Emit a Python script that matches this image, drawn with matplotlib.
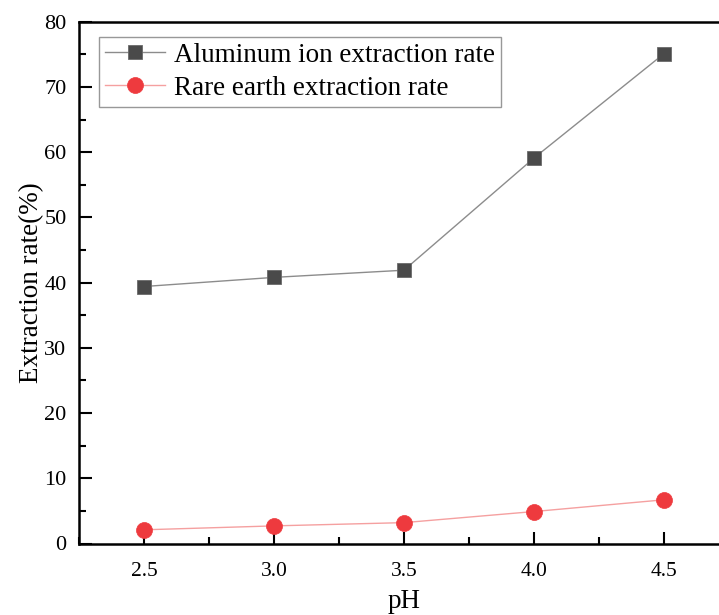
import matplotlib
matplotlib.use("Agg")
import matplotlib.pyplot as plt
from matplotlib.ticker import MultipleLocator

ph = [2.5, 3.0, 3.5, 4.0, 4.5]
aluminum = [39.4, 40.8, 41.9, 59.1, 75.1]
rare_earth = [2.1, 2.7, 3.2, 4.9, 6.7]
xtick_vals = [2.5, 3.0, 3.5, 4.0, 4.5]
xtick_labels = ["2.5", "3.0", "3.5", "4.0", "4.5"]
ytick_vals = [0, 10, 20, 30, 40, 50, 60, 70, 80]

plt.rcParams['font.family'] = ['Liberation Serif', 'DejaVu Serif']

fig = plt.figure(figsize=(7.19, 6.15), dpi=100)
ax = fig.add_axes([79/719, 1-543.5/615, 650/719, (543.5-21.7)/615])

ax.plot(ph, aluminum, color='#8c8c8c', lw=1.0, marker='s', ms=10.5,
        mfc='#4a4a4a', mec='#6a6a6a', mew=0.6,
        label='Aluminum ion extraction rate', zorder=3)
ax.plot(ph, rare_earth, color='#f5a0a0', lw=1.0, marker='o', ms=11.5,
        mfc='#ee3a3e', mec='#ee3a3e', mew=0.5,
        label='Rare earth extraction rate', zorder=3)

ax.set_xlim(2.25, 4.75)
ax.set_ylim(0, 80)
ax.set_xticks(xtick_vals)
ax.set_xticklabels(xtick_labels)
ax.set_yticks(ytick_vals)
ax.xaxis.set_minor_locator(MultipleLocator(0.25))
ax.yaxis.set_minor_locator(MultipleLocator(5))

ax.tick_params(which='major', direction='in', length=9, width=1.5,
               labelsize=15.5, pad=8, top=False, right=False)
ax.tick_params(which='minor', direction='in', length=5, width=1.5,
               top=False, right=False)
ax.tick_params(axis='y', labelsize=16, pad=9)
ax.tick_params(axis='x', pad=13)

for s in ['left', 'bottom', 'top']:
    ax.spines[s].set_linewidth(1.8)
ax.spines['right'].set_visible(False)

ax.set_xlabel('pH', fontsize=19.5, labelpad=6)
ax.set_ylabel('Extraction rate(%)', fontsize=19.5, labelpad=0)

leg = ax.legend(loc='upper left', bbox_to_anchor=(20/650, 1-(36.7-21.7)/521.8),
                fontsize=19.5, frameon=True, fancybox=False, borderaxespad=0,
                handlelength=2.2, handletextpad=0.35, borderpad=0.22,
                labelspacing=0.3)
leg.get_frame().set_edgecolor('#7f7f7f')
leg.get_frame().set_linewidth(1.0)

fig.savefig('out.png', dpi=100)
